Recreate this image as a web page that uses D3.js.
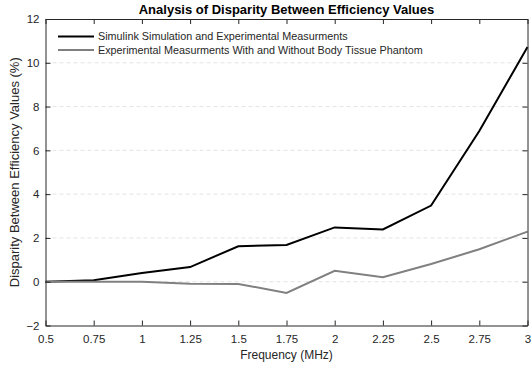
<!DOCTYPE html>
<html>
<head>
<meta charset="utf-8">
<script src="https://cdn.jsdelivr.net/npm/d3@7"></script>
<style>
  html, body { margin: 0; padding: 0; background: #fff; }
  svg { display: block; font-family: "Liberation Sans", Arial, Helvetica, sans-serif; }
</style>
</head>
<body>
<svg id="chart" width="531" height="369"></svg>
<script>
// Frequency points (MHz) and the disparity series (%)
const frequencies = [0.5, 0.75, 1, 1.25, 1.5, 1.75, 2, 2.25, 2.5, 2.75, 3];
const simVsExperiment = [0, 0.07, 0.4, 0.67, 1.62, 1.68, 2.48, 2.39, 3.48, 6.88, 10.72];
const withVsWithoutPhantom = [0, 0, 0, -0.09, -0.1, -0.51, 0.5, 0.2, 0.81, 1.48, 2.29];
const seriesNames = [
  "Simulink Simulation and Experimental Measurments",
  "Experimental Measurments With and Without Body Tissue Phantom"
];
const seriesColors = ["#000000", "#808080"];
const xTicks = [0.5, 0.75, 1, 1.25, 1.5, 1.75, 2, 2.25, 2.5, 2.75, 3];
const xTickLabels = ["0.5", "0.75", "1", "1.25", "1.5", "1.75", "2", "2.25", "2.5", "2.75", "3"];
const yTicks = [-2, 0, 2, 4, 6, 8, 10, 12];

(function () {
  const svg = d3.select("#chart");
  const margin = { left: 45.5, right: 3.5, top: 19, bottom: 43.5 };
  const W = 531, H = 369;
  const x = d3.scaleLinear().domain([0.5, 3]).range([margin.left, W - margin.right]);
  const y = d3.scaleLinear().domain([-2, 12]).range([H - margin.bottom, margin.top]);
  const axisColor = "#262626";

  // horizontal grid
  svg.append("g").selectAll("line").data(yTicks.slice(1, -1)).join("line")
    .attr("x1", x.range()[0]).attr("x2", x.range()[1])
    .attr("y1", d => y(d)).attr("y2", d => y(d))
    .attr("stroke", "#dcdcdc").attr("stroke-width", 0.8)
    .attr("stroke-dasharray", "4,3");

  // series lines
  const line = d3.line().x((d, i) => x(frequencies[i])).y(d => y(d));
  [simVsExperiment, withVsWithoutPhantom].forEach((vals, k) => {
    svg.append("path").datum(vals)
      .attr("d", line).attr("fill", "none")
      .attr("stroke", seriesColors[k]).attr("stroke-width", 2)
      .attr("stroke-linejoin", "miter");
  });

  // axes with inward ticks on all four sides
  const tick = 5;
  const axBottom = svg.append("g").attr("transform", `translate(0,${y(-2)})`)
    .call(d3.axisBottom(x).tickValues(xTicks).tickFormat((d, i) => xTickLabels[i])
      .tickSizeInner(-tick).tickSizeOuter(0).tickPadding(9));
  const axTop = svg.append("g").attr("transform", `translate(0,${y(12)})`)
    .call(d3.axisTop(x).tickValues(xTicks).tickFormat("").tickSizeInner(-tick).tickSizeOuter(0));
  const axLeft = svg.append("g").attr("transform", `translate(${x(0.5)},0)`)
    .call(d3.axisLeft(y).tickValues(yTicks).tickFormat(d3.format("d"))
      .tickSizeInner(-tick).tickSizeOuter(0).tickPadding(6));
  const axRight = svg.append("g").attr("transform", `translate(${x(3)},0)`)
    .call(d3.axisRight(y).tickValues(yTicks).tickFormat("").tickSizeInner(-tick).tickSizeOuter(0));

  [axBottom, axTop, axLeft, axRight].forEach(g => {
    g.select(".domain").attr("stroke", axisColor).attr("stroke-width", 1);
    g.selectAll(".tick line").attr("stroke", axisColor).attr("stroke-width", 1);
    g.selectAll("text").attr("fill", axisColor).attr("font-size", 11.5)
      .attr("font-family", "'Liberation Sans', Arial, sans-serif");
  });

  // axis titles
  svg.append("text").attr("x", (x.range()[0] + x.range()[1]) / 2).attr("y", 359)
    .attr("text-anchor", "middle").attr("font-size", 12).attr("fill", axisColor)
    .text("Frequency (MHz)");
  svg.append("text")
    .attr("transform", `translate(18.5,${(y.range()[0] + y.range()[1]) / 2}) rotate(-90)`)
    .attr("text-anchor", "middle").attr("font-size", 13).attr("fill", axisColor)
    .text("Disparity Between Efficiency Values (%)");

  // title
  svg.append("text").attr("x", (x.range()[0] + x.range()[1]) / 2).attr("y", 13.5)
    .attr("text-anchor", "middle").attr("font-size", 13).attr("font-weight", "bold")
    .attr("fill", "#000").text("Analysis of Disparity Between Efficiency Values");

  // legend
  const legend = svg.append("g");
  seriesNames.forEach((name, k) => {
    const ly = 36.5 + k * 13.5;
    legend.append("line").attr("x1", 58).attr("x2", 94).attr("y1", ly).attr("y2", ly)
      .attr("stroke", seriesColors[k]).attr("stroke-width", 2);
    legend.append("text").attr("x", 98).attr("y", ly + 3.8)
      .attr("font-size", 10.8).attr("fill", axisColor).text(name);
  });
})();
</script>
</body>
</html>
